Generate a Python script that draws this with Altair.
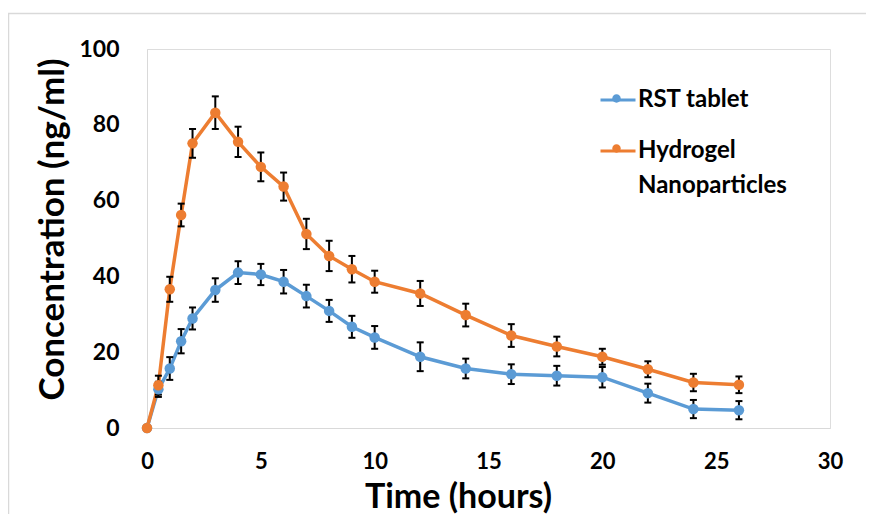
import altair as alt
import pandas as pd

time_h = [0, 0.5, 1, 1.5, 2, 3, 4, 5, 6, 7, 8, 9, 10, 12, 14, 16, 18, 20, 22, 24, 26]
rst = [0, 10.2, 15.7, 22.9, 28.9, 36.4, 41.0, 40.5, 38.6, 34.8, 30.9, 26.7, 23.9, 18.8, 15.7, 14.2, 13.8, 13.4, 9.2, 5.0, 4.7]
rst_err = [0, 2.0, 3.0, 3.2, 2.9, 3.1, 3.0, 2.8, 3.1, 3.0, 2.9, 2.9, 3.0, 3.8, 2.6, 2.6, 2.6, 2.7, 2.5, 2.4, 2.4]
hng = [0, 11.3, 36.6, 56.2, 75.1, 83.2, 75.5, 68.9, 63.7, 51.2, 45.4, 41.9, 38.6, 35.5, 29.8, 24.4, 21.5, 18.8, 15.5, 12.0, 11.4]
hng_err = [0, 2.5, 3.3, 3.0, 3.8, 4.3, 4.0, 3.8, 3.7, 4.0, 4.0, 3.5, 2.9, 3.3, 3.0, 3.0, 2.6, 2.1, 2.1, 2.3, 2.2]
series_names = ["RST tablet", "Hydrogel Nanoparticles"]
series_colors = ["#5B9BD5", "#ED7D31"]
x_ticks = [0, 5, 10, 15, 20, 25, 30]
y_ticks = [0, 20, 40, 60, 80, 100]

rows = []
for name, vals, errs in [(series_names[0], rst, rst_err), (series_names[1], hng, hng_err)]:
    for t, v, e in zip(time_h, vals, errs):
        rows.append({"time": t, "conc": v, "lo": v - e, "hi": v + e, "series": name})
df = pd.DataFrame(rows)

FONT = "Lato"
LABEL_EXPR = "datum.label == 'Hydrogel Nanoparticles' ? ['Hydrogel', 'Nanoparticles'] : datum.label"
BLANK_EXPR = "datum.label == 'Hydrogel Nanoparticles' ? [' ', ' '] : ' '"

x = alt.X("time:Q", scale=alt.Scale(domain=[0, 30], nice=False),
          axis=alt.Axis(values=x_ticks, title="Time (hours)", grid=False, ticks=False,
                        labelFlush=False,
                        domainColor="#d9d9d9", labelFontSize=22, labelFontWeight="bold",
                        labelColor="#000000", labelPadding=23, labelFont=FONT,
                        titleFont=FONT, titleFontSize=34, titleFontWeight="bold",
                        titleColor="#000000", titleX=311, titleY=86, titleBaseline="bottom"))
y = alt.Y("conc:Q", scale=alt.Scale(domain=[0, 100], nice=False),
          axis=alt.Axis(values=y_ticks, title="Concentration (ng/ml)", grid=False, ticks=False,
                        labelFlush=False,
                        domainColor="#d9d9d9", labelFontSize=23, labelFontWeight="bold",
                        labelColor="#000000", labelPadding=28, labelFont=FONT,
                        titleFont=FONT, titleFontSize=35, titleFontWeight="bold",
                        titleColor="#000000", titleX=-77, titleY=180, titleAngle=-90,
                        titleBaseline="bottom", titleAlign="center"))

legend_common = dict(title=None, orient="none", legendX=452, legendY=32,
                     labelFont=FONT, labelFontSize=24, labelFontWeight="bold",
                     labelColor="#000000", labelOffset=1, rowPadding=20,
                     labelLimit=300, symbolSize=1225)

stroke = alt.Stroke("series:N",
                    scale=alt.Scale(domain=series_names, range=series_colors),
                    legend=alt.Legend(symbolType="M-1,0H1", labelExpr=LABEL_EXPR,
                                      symbolStrokeWidth=3, **legend_common))
fill = alt.Fill("series:N",
                scale=alt.Scale(domain=series_names, range=series_colors),
                legend=alt.Legend(
                    symbolType="M-0.24,0A0.24,0.24 0 1,0 0.24,0A0.24,0.24 0 1,0 -0.24,0Z",
                    labelExpr=BLANK_EXPR, symbolStrokeWidth=0, **legend_common))

base = alt.Chart(df)

line = base.mark_line(strokeWidth=3.5).encode(x=x, y=y, stroke=stroke)
err_rule = base.mark_rule(strokeWidth=2, color="#000000").encode(
    x=alt.X("time:Q"), y=alt.Y("lo:Q"), y2="hi:Q")
cap_lo = base.mark_tick(size=7, thickness=2, color="#000000", orient="horizontal", opacity=1).encode(
    x=alt.X("time:Q"), y=alt.Y("lo:Q"))
cap_hi = base.mark_tick(size=7, thickness=2, color="#000000", orient="horizontal", opacity=1).encode(
    x=alt.X("time:Q"), y=alt.Y("hi:Q"))
pts = base.mark_circle(size=110, opacity=1).encode(x="time:Q", y="conc:Q", fill=fill)

frame = alt.Chart(pd.DataFrame({"k": [0]})).mark_rect(
    fill=None, stroke="#d9d9d9", strokeWidth=1.5).encode(
    x=alt.value(-138.5), x2=alt.value(780), y=alt.value(-35.5), y2=alt.value(540))

chart = alt.layer(frame, line, err_rule, cap_lo, cap_hi, pts).resolve_legend(
    stroke="independent", fill="independent").properties(
    width=683, height=379,
    autosize=alt.AutoSizeParams(type="none"),
    padding={"left": 139, "top": 41, "right": 36, "bottom": 86},
).configure_view(stroke="#d9d9d9", strokeWidth=1.5).configure(
    background="white",
    style={"guide-label": {"lineHeight": 35}},
)

chart.save("out.html", embed_options={"renderer": "svg", "actions": False})
